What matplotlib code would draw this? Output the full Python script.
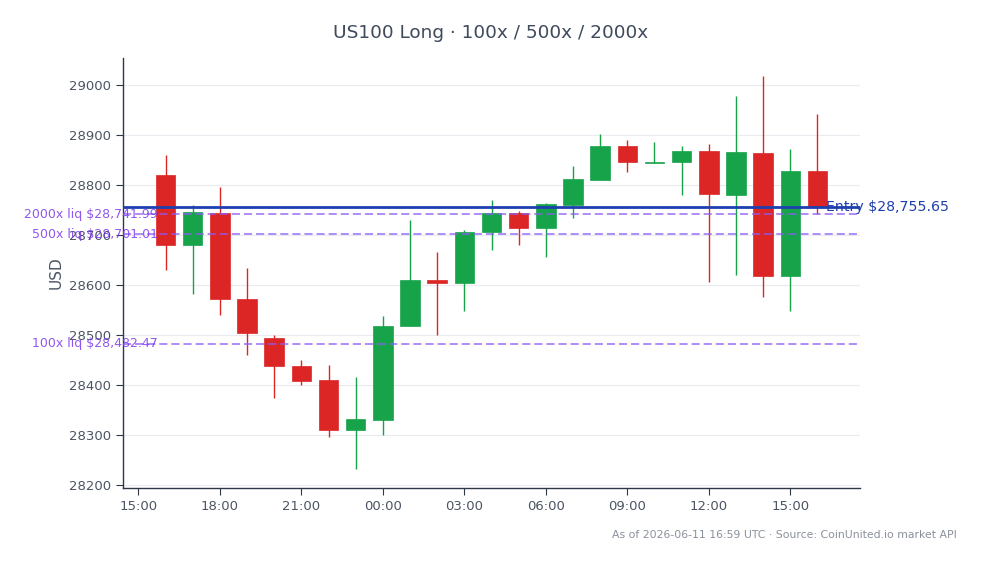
import matplotlib
matplotlib.use("Agg")
import matplotlib.pyplot as plt
import matplotlib.dates as mdates
from matplotlib.patches import Rectangle
import pandas as pd
import numpy as np

# ---- data ----
times = pd.date_range("2026-06-10 16:00", "2026-06-11 16:00", freq="h")
opens  = [28819, 28679, 28743, 28571, 28494, 28438, 28410, 28310, 28329, 28517,
          28610, 28603, 28705, 28743, 28713, 28759, 28809, 28878, 28843, 28845,
          28868, 28779, 28864, 28617, 28828]
closes = [28679, 28746, 28571, 28503, 28438, 28408, 28310, 28332, 28518, 28610,
          28603, 28706, 28744, 28713, 28761, 28812, 28878, 28845, 28846, 28868,
          28781, 28866, 28617, 28828, 28756]
highs  = [28860, 28759, 28796, 28633, 28500, 28450, 28440, 28416, 28538, 28730,
          28665, 28710, 28770, 28748, 28764, 28837, 28902, 28889, 28885, 28877,
          28882, 28978, 29017, 28872, 28942]
lows   = [28629, 28582, 28539, 28459, 28374, 28400, 28296, 28232, 28300, 28517,
          28500, 28547, 28670, 28679, 28655, 28733, 28809, 28825, 28843, 28779,
          28605, 28619, 28575, 28547, 28742]

entry_price = 28755.65
liq_names = ["2000x", "500x", "100x"]
liq_prices = [28741.99, 28701.01, 28482.47]

title = "US100 Long · 100x / 500x / 2000x"
footer = "As of 2026-06-11 16:59 UTC · Source: CoinUnited.io market API"

# ---- style ----
UP = "#16a34a"
DOWN = "#dc2626"
ENTRY = "#1e40af"
LIQ = "#7c3aed"
TXT = "#3f4a5c"

fig = plt.figure(figsize=(9.81, 5.64), dpi=100)
ax = fig.add_axes([123/981, 1-488/564, (860-123)/981, (488-58)/564])

xnum = mdates.date2num(times)
width = 0.72 / 24
for x, o, c, h, l in zip(xnum, opens, closes, highs, lows):
    col = UP if c >= o else DOWN
    ax.vlines(x, l, h, color=col, linewidth=1.0, zorder=2)
    bottom = min(o, c)
    height = max(abs(c - o), 2)
    ax.add_patch(Rectangle((x - width/2, bottom), width, height,
                           facecolor=col, edgecolor=col, linewidth=0.5, zorder=3))

ax.axhline(entry_price, color=ENTRY, linewidth=2, zorder=4)
ax.text(1.0 - 0.046, entry_price, f"Entry ${entry_price:,.2f}", transform=ax.get_yaxis_transform(),
        ha="left", va="center", color=ENTRY, fontsize=10.2, zorder=5)

for n, p in zip(liq_names, liq_prices):
    ax.axhline(p, color="#8b5cf6", linestyle=(0, (4.5, 2.2)), linewidth=1.3, alpha=0.75, zorder=4)
    ax.text(0.047, p, f"{n} liq ${p:,.2f}", transform=ax.get_yaxis_transform(),
            ha="right", va="center", color=LIQ, fontsize=9, alpha=0.85, zorder=5)

ax.set_xlim(mdates.date2num(pd.Timestamp("2026-06-10 14:26")),
            mdates.date2num(pd.Timestamp("2026-06-11 17:34")))
ax.set_ylim(28194, 29054)
ax.set_yticks(np.arange(28200, 29001, 100))
ax.xaxis.set_major_locator(mdates.HourLocator(byhour=range(0, 24, 3)))
ax.xaxis.set_major_formatter(mdates.DateFormatter("%H:%M"))

ax.grid(axis="y", color="#e8ebef", linewidth=0.8, zorder=0)
ax.set_axisbelow(True)
for s in ["top", "right"]:
    ax.spines[s].set_visible(False)
for s in ["left", "bottom"]:
    ax.spines[s].set_color("#2d3748")
    ax.spines[s].set_linewidth(1)
ax.tick_params(colors="#2d3748", labelcolor="#4b5563", labelsize=9.5, length=5)
ax.set_ylabel("USD", color="#4b5563", fontsize=11)

fig.text(491/981, 1 - 33/564, title, ha="center", va="center", color=TXT, fontsize=13.3)
fig.text(957/981, 1 - 535/564, footer, ha="right", va="center", color="#8a919c", fontsize=7.8)

fig.savefig("out.png", dpi=100, facecolor="white")
